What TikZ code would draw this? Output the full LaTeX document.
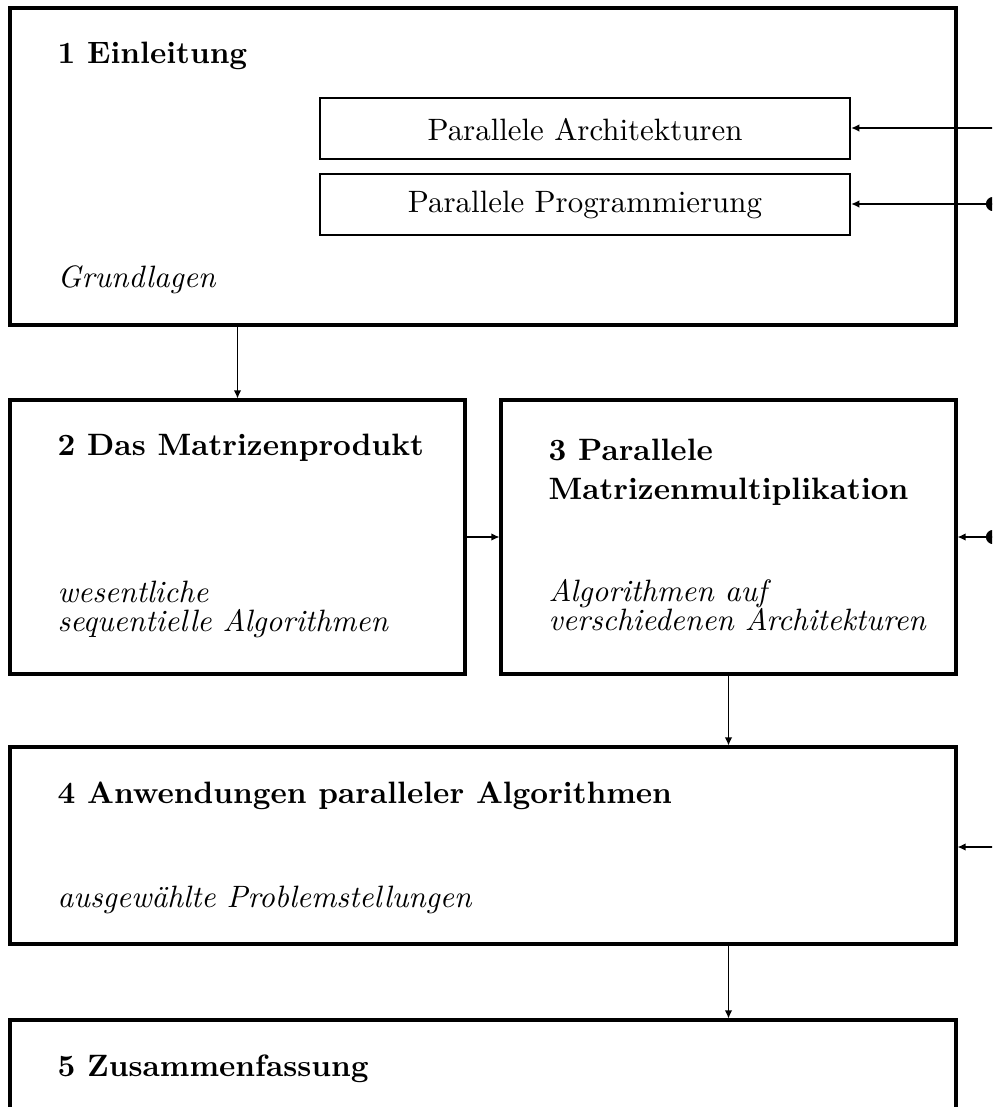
\documentclass[tikz,border=0pt]{standalone}
\usetikzlibrary{arrows.meta,fit}
\begin{document}
\begin{tikzpicture}[x=0.3236pt,y=-0.3236pt,
  box/.style={draw,line width=1pt,inner sep=0pt},
  subbox/.style={draw,line width=0.8pt,inner sep=0pt},
  conn/.style={draw=black,line width=0.4pt,-{Latex[length=2.6pt,width=2.4pt]}},
  head/.style={anchor=base west,inner sep=0pt,font=\bfseries},
  sub/.style={anchor=base west,inner sep=0pt,font=\itshape}]
\clip (0,0) rectangle (992,1107);

% chapter boxes
\node[box,fit={(10,8) (956,325)}] (b1) {};
\node[box,fit={(10,400) (465,674)}] (b2) {};
\node[box,fit={(501,400) (956,674)}] (b3) {};
\node[box,fit={(10,747) (956,944)}] (b4) {};
\node[box,fit={(10,1020) (956,1200)}] (b5) {};

% sections inside chapter 1
\node[subbox,fit={(320,98) (850,159)}] (pa) {};
\node at (pa.center) [yshift=-0.3pt] (pat) {Parallele Architekturen};
\node[subbox,fit={(320,174) (850,235)}] (pp) {};
\node at (pp.center) [yshift=-0.3pt] (ppt) {Parallele Programmierung};

% headings and subtitles
\node[head] (h1) at (57,63) {1 Einleitung};
\node[sub]  (s1) at (57,287) {Grundlagen};
\node[head] (h2) at (57,455) {2 Das Matrizenprodukt};
\node[sub]  (s2a) at (57,602) {wesentliche};
\node[sub]  (s2b) at (57,631) {sequentielle Algorithmen};
\node[head] (h3a) at (548,460) {3 Parallele};
\node[head] (h3b) at (548,499) {Matrizenmultiplikation};
\node[sub]  (s3a) at (548,601) {Algorithmen auf};
\node[sub]  (s3b) at (548,630) {verschiedenen Architekturen};
\node[head] (h4) at (57,803) {4 Anwendungen paralleler Algorithmen};
\node[sub]  (s4) at (57,907) {ausgewählte Problemstellungen};
\node[head] (h5) at (57,1076) {5 Zusammenfassung};

% incoming references from the right margin
\coordinate (r1) at (993,128);
\coordinate (r2) at (993,204);
\coordinate (r3) at (993,537);
\coordinate (r4) at (993,847);
\fill (r2) circle (2.3pt);
\fill (r3) circle (2.3pt);
\draw[conn] (r1) -- (r1 -| pa.east);
\draw[conn] (r2) -- (r2 -| pp.east);
\draw[conn] (r3) -- (b3.east);
\draw[conn] (r4) -- (r4 -| b4.east);

% flow between chapters
\draw[conn] (b1.south -| b2.north) -- (b2.north);
\draw[conn] (b2.east) -- (b3.west);
\draw[conn] (b3.south) -- (b4.north -| b3.south);
\draw[conn] (b4.south -| b3.south) -- (b5.north -| b3.south);
\end{tikzpicture}
\end{document}
